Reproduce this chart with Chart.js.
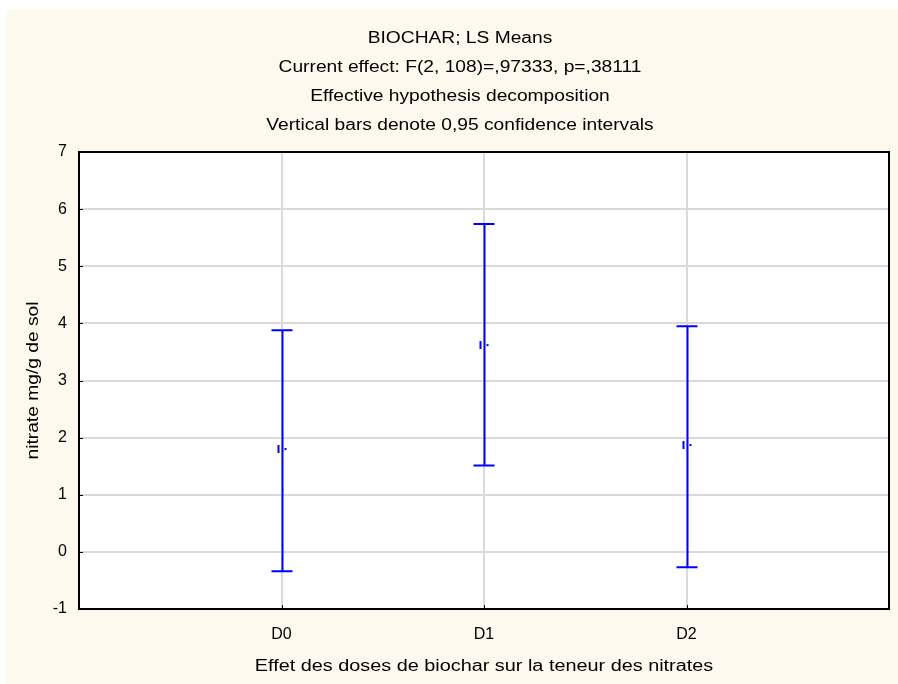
<!DOCTYPE html>
<html>
<head>
<meta charset="utf-8">
<script src="https://cdn.jsdelivr.net/npm/chart.js@4.4.1/dist/chart.umd.min.js"></script>
<style>
  html, body { margin: 0; padding: 0; background: #ffffff; }
  #wrap { width: 898px; height: 684px; }
</style>
</head>
<body>
<div id="wrap"><canvas id="chart" width="898" height="684"></canvas></div>
<script>
const categories = ['D0', 'D1', 'D2'];
const means = [1.80, 3.62, 1.87];
const lower = [-0.34, 1.51, -0.27];
const upper = [3.88, 5.74, 3.95];
const yTicks = [-1, 0, 1, 2, 3, 4, 5, 6, 7];

const titleLines = [
  'BIOCHAR; LS Means',
  'Current effect: F(2, 108)=,97333, p=,38111',
  'Effective hypothesis decomposition',
  'Vertical bars denote 0,95 confidence intervals'
];
const xTitle = 'Effet des doses de biochar sur la teneur des nitrates';
const yTitle = 'nitrate mg/g de sol';

const FONT = '"Liberation Sans", Arial, sans-serif';
const BLUE = '#0000ff';

// the original export stretches its captions sideways a little
function wideText(ctx, text, x, y, angle, stretch) {
  ctx.save();
  ctx.translate(x, y);
  if (angle) ctx.rotate(angle);
  ctx.scale(stretch || 1.2, 1);
  ctx.fillText(text, 0, 0);
  ctx.restore();
}

const frame = {
  id: 'frame',
  beforeDraw(chart) {
    const { ctx, chartArea: a } = chart;
    ctx.save();
    ctx.fillStyle = '#fdf9ef';
    ctx.fillRect(6, 10, chart.width - 6, chart.height - 10);
    ctx.fillStyle = '#ffffff';
    ctx.fillRect(a.left, a.top, a.right - a.left, a.bottom - a.top);
    ctx.restore();
  },
  afterDatasetsDraw(chart) {
    const { ctx, chartArea: a, scales: { x, y } } = chart;
    ctx.save();
    // small inside ticks
    ctx.strokeStyle = '#000';
    ctx.lineWidth = 1;
    yTicks.forEach(v => {
      const py = Math.round(y.getPixelForValue(v)) + 0.5;
      ctx.beginPath(); ctx.moveTo(a.left, py); ctx.lineTo(a.left + 4, py); ctx.stroke();
    });
    categories.forEach((c, i) => {
      const px = Math.round(x.getPixelForValue(i)) + 0.5;
      ctx.beginPath(); ctx.moveTo(px, a.bottom); ctx.lineTo(px, a.bottom - 4); ctx.stroke();
    });
    // border
    ctx.lineWidth = 2;
    ctx.strokeRect(a.left, a.top, a.right - a.left, a.bottom - a.top);
    // texts
    ctx.fillStyle = '#000';
    ctx.textAlign = 'center';
    ctx.textBaseline = 'middle';
    ctx.font = '16px ' + FONT;
    titleLines.forEach((t, i) => wideText(ctx, t, 460, 39 + i * 29));
    wideText(ctx, xTitle, (a.left + a.right) / 2, 667, 0, 1.24);
    wideText(ctx, yTitle, 34, (a.top + a.bottom) / 2, -Math.PI / 2);
    ctx.restore();
  }
};

const errorBars = {
  id: 'errorBars',
  afterDatasetsDraw(chart) {
    const { ctx, scales: { x, y } } = chart;
    ctx.save();
    ctx.strokeStyle = BLUE;
    ctx.lineWidth = 2;
    categories.forEach((c, i) => {
      const px = Math.round(x.getPixelForValue(i)) + 0.5;
      const yl = y.getPixelForValue(lower[i]);
      const yu = y.getPixelForValue(upper[i]);
      ctx.beginPath();
      ctx.moveTo(px, yl); ctx.lineTo(px, yu);
      ctx.moveTo(px - 11, yu); ctx.lineTo(px + 10, yu);
      ctx.moveTo(px - 11, yl); ctx.lineTo(px + 10, yl);
      ctx.stroke();
      // mean marker
      const ym = y.getPixelForValue(means[i]);
      ctx.beginPath();
      ctx.moveTo(px - 4, ym - 4); ctx.lineTo(px - 4, ym + 4);
      ctx.stroke();
      ctx.fillStyle = BLUE;
      ctx.fillRect(px + 2, ym - 1, 2, 2);
    });
    ctx.restore();
  }
};

new Chart(document.getElementById('chart'), {
  type: 'scatter',
  data: {
    datasets: [{
      data: means.map((m, i) => ({ x: i, y: m })),
      pointRadius: 0,
      showLine: false
    }]
  },
  options: {
    responsive: false,
    animation: false,
    layout: { padding: { left: 0, right: 9, top: 152, bottom: 0 } },
    plugins: { legend: { display: false }, tooltip: { enabled: false }, title: { display: false } },
    scales: {
      x: {
        type: 'linear',
        min: -1,
        max: 3,
        afterFit(s) { s.height = 75; },
        afterBuildTicks(s) { s.ticks = categories.map((c, i) => ({ value: i })); },
        ticks: {
          callback: v => categories[v],
          color: '#000',
          font: { family: FONT, size: 16 },
          padding: 16,
          maxRotation: 0
        },
        grid: { color: '#dadada', lineWidth: 2, drawTicks: false },
        border: { display: false }
      },
      y: {
        min: -1,
        max: 7,
        afterFit(s) { s.width = 79; },
        afterBuildTicks(s) { s.ticks = yTicks.map(v => ({ value: v })); },
        ticks: {
          color: '#000',
          font: { family: FONT, size: 16 },
          padding: 12
        },
        grid: { color: '#dadada', lineWidth: 2, drawTicks: false },
        border: { display: false }
      }
    }
  },
  plugins: [frame, errorBars]
});
</script>
</body>
</html>
